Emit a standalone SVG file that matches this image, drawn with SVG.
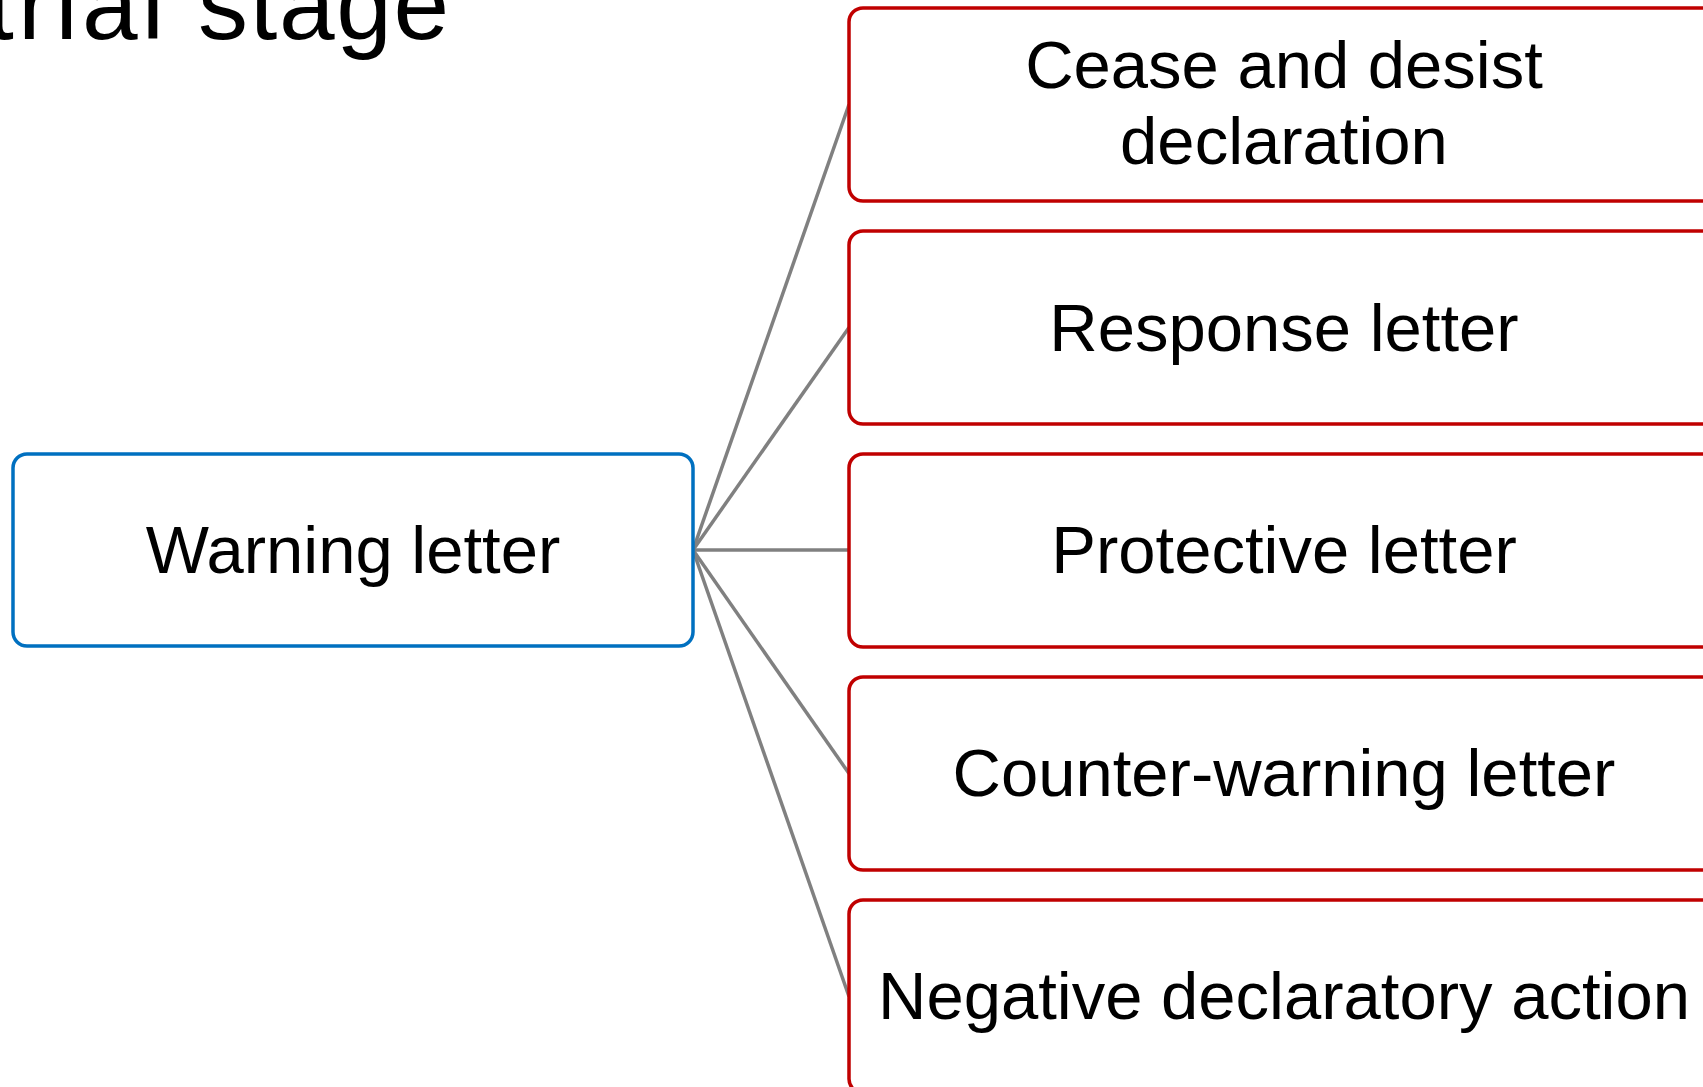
<svg xmlns="http://www.w3.org/2000/svg" width="1703" height="1087" viewBox="0 0 1703 1087">
<style>
.t{font-family:"Liberation Sans",Arial,sans-serif;font-size:67px;fill:#000;text-anchor:middle}
.blue{fill:#fff;stroke:#0070C0;stroke-width:3.5}
.red{fill:#fff;stroke:#C00000;stroke-width:3.5}
.c{stroke:#808080;stroke-width:3.5;fill:none}
</style>
<rect width="1703" height="1087" fill="#fff"/>
<text y="39" font-family="'Liberation Sans',Arial,sans-serif" font-size="100"><tspan x="-14" textLength="178" lengthAdjust="spacing">trial</tspan><tspan x="198" textLength="251" lengthAdjust="spacing">stage</tspan></text>
<g id="connectors">
<line class="c" x1="693" y1="550" x2="849" y2="104.5"/>
<line class="c" x1="693" y1="550" x2="849" y2="327.5"/>
<line class="c" x1="693" y1="550" x2="849" y2="550"/>
<line class="c" x1="693" y1="550" x2="849" y2="773.5"/>
<line class="c" x1="693" y1="550" x2="849" y2="996.5"/>
</g>
<g id="warning">
<rect class="blue" x="13" y="454" width="680" height="192" rx="14"/>
<text class="t" x="353" y="573">Warning letter</text>
</g>
<g id="cease">
<rect class="red" x="849" y="8" width="870" height="193" rx="14"/>
<text class="t" x="1284" y="88">Cease and desist</text>
<text class="t" x="1284" y="164">declaration</text>
</g>
<g id="response">
<rect class="red" x="849" y="231" width="870" height="193" rx="14"/>
<text class="t" x="1284" y="351">Response letter</text>
</g>
<g id="protective">
<rect class="red" x="849" y="454" width="870" height="193" rx="14"/>
<text class="t" x="1284" y="573">Protective letter</text>
</g>
<g id="counter">
<rect class="red" x="849" y="677" width="870" height="193" rx="14"/>
<text class="t" x="1284" y="796">Counter-warning letter</text>
</g>
<g id="negative">
<rect class="red" x="849" y="900" width="870" height="193" rx="14"/>
<text class="t" x="1284" y="1019">Negative declaratory action</text>
</g>
</svg>
